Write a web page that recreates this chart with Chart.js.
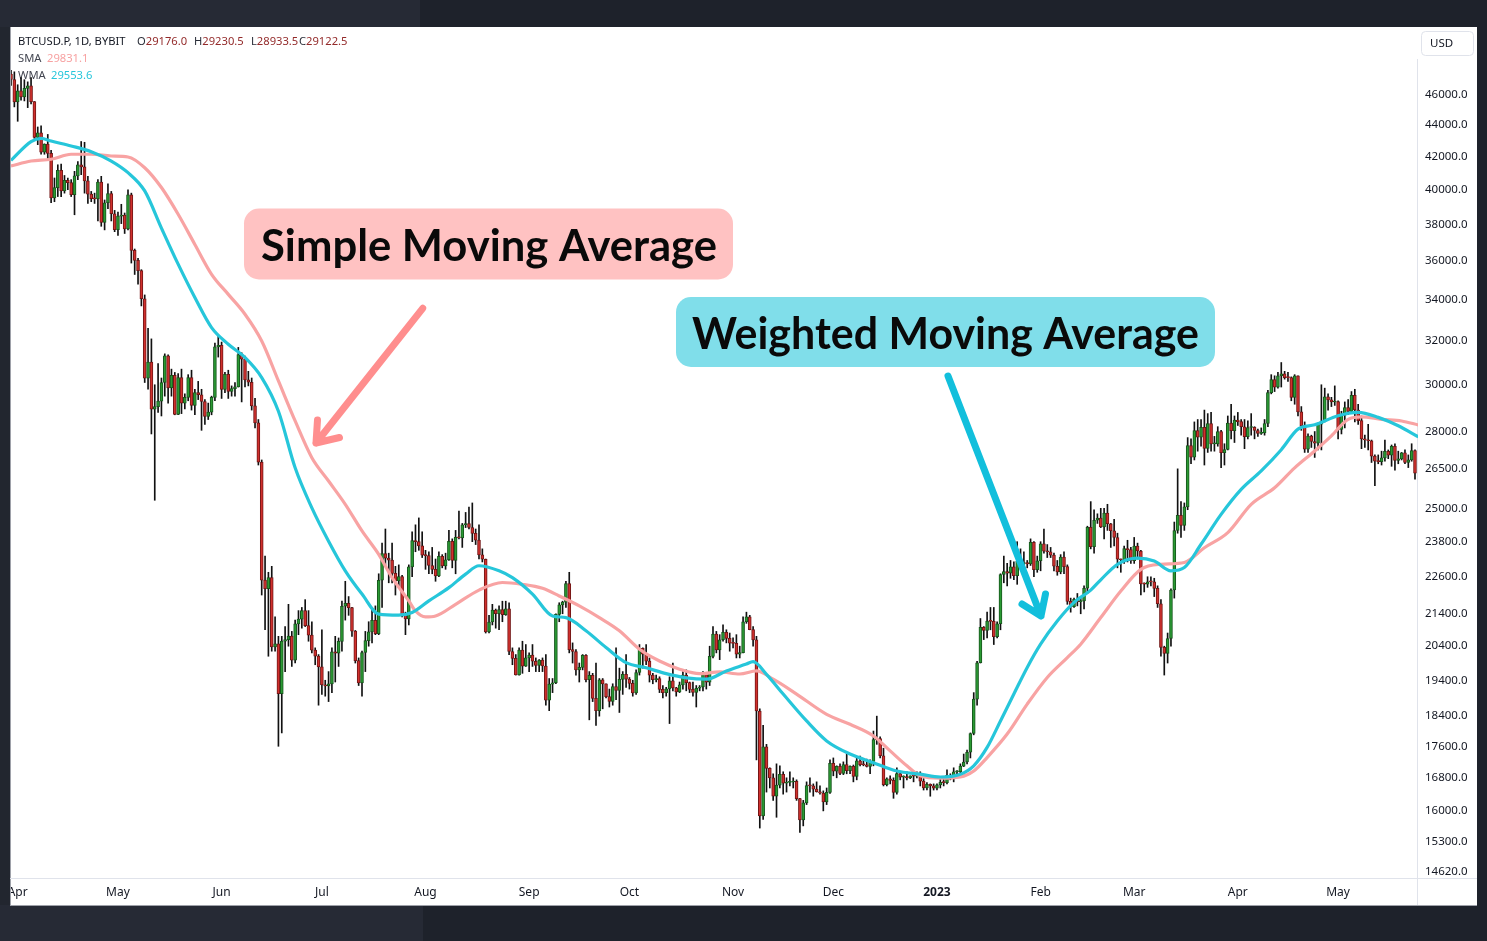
<!DOCTYPE html>
<html>
<head>
<meta charset="utf-8">
<title>BTCUSD.P 1D - Simple vs Weighted Moving Average</title>
<script src="https://cdn.jsdelivr.net/npm/chart.js@4.4.0/dist/chart.umd.min.js"></script>
<style>
  html, body { margin: 0; padding: 0; background: #1e222b; overflow: hidden; }
  #chart { display: block; }
</style>
</head>
<body>
<canvas id="chart" width="1487" height="941"></canvas>
<script>
// daily candles: first one is 30 Mar 2022 (day 0 = 1 Apr 2022)
const firstDay = -2;

const opens = [
  47440, 47063,
  45539, 46282, 45868, 46453, 46622, 45555, 43206, 43504, 42287, 42782, 42207, 39521, 40127, 41166, 39936, 40553, 40424, 39716, 40826, 41503, 41374, 40527, 39740, 39470, 39469, 40458, 38117, 39241, 39773, 38609,
  37714, 38469, 38529, 37750, 39698, 36575, 36040, 35501, 34059, 30296, 31022, 28936, 29047, 29283, 30101, 31305, 29862, 30425, 28720, 30314, 29201, 29445, 30324, 29098, 29655, 29562, 29267, 28627, 28814, 29445, 31726,
  31792, 29799, 30467, 29704, 29832, 29906, 31370, 31155, 30214, 30112, 29083, 28360, 26762, 22487, 22206, 22572, 20381, 20471, 19017, 20553, 20599, 20710, 19987, 21085, 21231, 21502, 21027, 20735, 20281, 20104,
  19785, 19269, 19242, 19297, 20231, 20190, 20548, 21637, 21731, 21592, 20860, 19970, 19323, 20212, 20569, 20836, 21190, 20779, 22485, 23389, 23231, 23164, 22714, 22465, 22609, 21361, 21239, 22930, 23843, 23804, 23656,
  23336, 23314, 22978, 22846, 22630, 23289, 22961, 23175, 23810, 23149, 23954, 23934, 24403, 24441, 24305, 24094, 23854, 23342, 23191, 20834, 21140, 21516, 21399, 21529, 21368, 21559, 20241, 20037, 19555, 20285, 19811,
  20050, 20131, 19951, 19832, 19986, 19812, 18837, 19290, 19329, 21381, 21680, 21769, 22371, 20296, 20241, 19701, 19772, 20127, 19419, 19544, 18891, 18547, 19413, 19297, 18937, 18802, 19222, 19110, 19426, 19573,
  19431, 19312, 19044, 19623, 20337, 20160, 19955, 19546, 19416, 19446, 19141, 19051, 19157, 19382, 19185, 19067, 19268, 19550, 19334, 19139, 19053, 19172, 19208, 19567, 19345, 20095, 20770, 20285, 20595, 20818, 20635,
  20495, 20485, 20159, 20209, 21148, 21300, 20905, 20591, 18541, 15880, 17586, 17034, 16800, 16353, 16619, 16884, 16670, 16688, 16697, 16712, 16292, 15787, 16190, 16610, 16605, 16522, 16458, 16428, 16212, 16442,
  17164, 16967, 17088, 16908, 17130, 16975, 17089, 16836, 17224, 17128, 17127, 17085, 17209, 17774, 17804, 17357, 16633, 16777, 16738, 16439, 16906, 16817, 16830, 16796, 16847, 16841, 16919, 16717, 16552, 16642, 16602,
  16547, 16625, 16688, 16680, 16864, 16837, 16951, 16955, 17091, 17196, 17446, 17934, 18869, 19909, 20976, 20881, 21169, 21161, 20688, 21086, 22676, 22777, 22720, 22934, 22636, 23117, 23032, 23078, 23031, 23774, 22840,
  23139, 23723, 23471, 23449, 23331, 22955, 22760, 23264, 22940, 21797, 21625, 21862, 21788, 21808, 22220, 24307, 23623, 24565, 24641, 24328, 24830, 24437, 24188, 23947, 23198, 23175, 23561, 23522,
  23147, 23646, 23475, 22362, 22354, 22435, 22429, 22219, 21718, 20363, 20187, 20633, 22163, 24197, 24746, 24375, 25052, 27423, 26965, 28038, 27767, 28175, 27307, 28333, 27493, 27494, 27994, 27139, 27268, 28348, 28033,
  28478, 28411, 28199, 27790, 28168, 28177, 28044, 27925, 27947, 28333, 29652, 30235, 29892, 30399, 30485, 30318, 30315, 29445, 30397, 28823, 28245, 27276, 27817, 27591, 27525, 28307, 28422, 29473, 29340, 29248,
  29268, 28091, 28680, 29006, 28847, 29534, 28904, 28454, 27694, 27658, 27621, 27000, 26805, 26784, 26931, 27192, 27036, 27398, 26832, 26890, 27130, 26754, 26851, 27225
];

const highs = [
  47700, 47600,
  46700, 47200, 47050, 46900, 47200, 45560, 43880, 43950, 42800, 43400, 42400, 40700, 41500, 41550, 40850, 40700, 40600, 41100, 41700, 42950, 42900, 40800, 39900, 39800, 40600, 40800, 39400, 40350, 39900, 38800,
  38700, 39150, 38650, 40000, 39800, 36650, 36150, 35550, 34250, 32600, 32100, 30000, 30950, 30300, 31400, 31350, 30700, 30550, 30500, 30700, 29600, 30450, 30650, 29800, 30150, 29800, 29350, 29200, 29500, 31900, 32250,
  31950, 30550, 30650, 29950, 30100, 31700, 31450, 31300, 30600, 30300, 29400, 28500, 26850, 23300, 22750, 22950, 21300, 20700, 20700, 21000, 21700, 20850, 21200, 21500, 21600, 21850, 21500, 21150, 20350, 20150,
  20900, 19400, 19650, 20350, 20700, 20650, 21800, 22450, 21950, 21600, 20880, 20050, 20250, 20850, 21150, 21550, 21650, 22700, 23750, 24250, 23400, 23750, 22950, 23000, 22650, 21450, 23000, 24150, 24400, 24650, 24150,
  23500, 23450, 23600, 23200, 23450, 23350, 23400, 24200, 23900, 24200, 24900, 24450, 24850, 25050, 25200, 24250, 24400, 23550, 23200, 21350, 21700, 21550, 21650, 21800, 21800, 21750, 20350, 20150, 20350, 20550, 20450,
  20200, 20450, 20050, 20000, 20050, 20150, 19450, 19450, 21400, 21750, 21800, 22450, 22750, 20500, 20300, 19900, 20150, 20150, 19650, 19600, 19900, 19450, 19450, 19300, 19150, 19300, 20350, 19750, 19650, 20150,
  19480, 19400, 19700, 20450, 20350, 20450, 20050, 19600, 19550, 19500, 19250, 19200, 19500, 19900, 19200, 19350, 19650, 19700, 19350, 19350, 19250, 19250, 19650, 19600, 20400, 21000, 20850, 20750, 21050, 20900, 20800,
  20650, 20750, 20400, 21300, 21450, 21350, 21000, 20700, 18600, 18150, 17650, 17050, 16900, 17150, 17100, 16950, 16800, 16950, 16800, 16750, 16300, 16250, 16700, 16800, 16650, 16700, 16600, 16480, 16550, 17250,
  17300, 17100, 17150, 17200, 17400, 17100, 17120, 17300, 17350, 17230, 17270, 17250, 18000, 18400, 17850, 17550, 16800, 16850, 16800, 17050, 16950, 16850, 16950, 16850, 16880, 16950, 16950, 16780, 16680, 16650, 16650,
  16650, 16780, 16780, 17000, 16900, 17050, 16980, 17150, 17400, 17500, 17950, 19050, 19950, 21250, 21000, 21450, 21600, 21600, 21150, 22700, 23300, 23050, 23150, 23100, 23800, 23550, 23450, 23150, 23900, 23800, 23300,
  23800, 24250, 23700, 23600, 23400, 23150, 23350, 23450, 23000, 21900, 21900, 22050, 21900, 22300, 24350, 25250, 24950, 24800, 25000, 25000, 25150, 24450, 24600, 24100, 23200, 23650, 23850, 23600,
  23950, 23750, 23500, 22400, 22600, 22600, 22550, 22300, 21850, 20400, 20800, 22200, 24500, 26500, 25250, 25200, 27750, 27700, 28400, 28500, 28500, 28900, 28750, 28800, 27800, 28200, 28050, 27500, 28650, 29150, 28650,
  28800, 28500, 28500, 28450, 28750, 28200, 28100, 28150, 28500, 29750, 30450, 30400, 30550, 31000, 30600, 30550, 30350, 30450, 30400, 29050, 28400, 27900, 27850, 28000, 28350, 30000, 29850, 29600, 29450, 29950,
  29300, 28850, 29250, 29350, 29700, 29800, 29150, 28650, 27850, 28300, 27650, 27050, 27050, 27200, 27650, 27250, 27450, 27500, 27200, 27150, 27250, 27050, 27500, 27250
];

const lows = [
  46650, 45200,
  44250, 45650, 45600, 45150, 45400, 43150, 42750, 42150, 42150, 41900, 39250, 39300, 39600, 39600, 39800, 40000, 39600, 38550, 40600, 40900, 39800, 39200, 39300, 39200, 38200, 37900, 37700, 38900, 38200, 37600,
  37400, 38050, 37500, 37700, 35900, 35300, 34800, 33700, 30100, 29800, 27900, 25300, 28800, 28650, 29500, 29200, 29500, 28700, 28700, 28750, 28950, 29300, 28900, 28700, 29350, 28050, 28300, 28500, 28700, 29300, 31250,
  29400, 29650, 29400, 29500, 29500, 29900, 29250, 29900, 29950, 28900, 28150, 26650, 22000, 20900, 20100, 20250, 20250, 17600, 17950, 19650, 20400, 19800, 19900, 20750, 20950, 21000, 20550, 20200, 19850, 18700,
  19000, 18950, 18800, 19050, 19350, 19800, 20250, 21200, 21350, 20700, 19900, 19250, 18950, 19650, 20400, 20500, 20750, 20750, 21600, 23000, 22400, 22400, 22000, 22300, 21300, 20750, 21050, 22600, 23450, 23500, 23250,
  22850, 22700, 22700, 22450, 22600, 22900, 22850, 23150, 22900, 22700, 23900, 23600, 24300, 24250, 23800, 23700, 23200, 23100, 20800, 20800, 21050, 20950, 20900, 21150, 21350, 20150, 19850, 19550, 19550, 19600, 19800,
  19650, 19800, 19650, 19650, 19650, 18700, 18550, 19050, 19300, 21150, 21400, 21600, 20200, 19900, 19550, 19350, 19700, 19350, 18300, 18800, 18150, 18400, 18600, 18900, 18650, 18700, 18850, 18500, 19000, 19200,
  19150, 18950, 19000, 19550, 19750, 19850, 19350, 19300, 19350, 19050, 18900, 18950, 18200, 19100, 18950, 19050, 19150, 19100, 19050, 18950, 18650, 19100, 19100, 19150, 19250, 20050, 20200, 20000, 20550, 20500, 20250,
  20350, 20050, 20050, 20200, 21100, 20900, 20400, 17250, 15600, 15800, 16450, 16550, 16250, 15850, 16550, 16400, 16450, 16600, 16550, 16250, 15500, 15650, 16150, 16450, 16350, 16450, 16400, 16000, 16150, 16420,
  16850, 16800, 16880, 16880, 16900, 16900, 16700, 16750, 17100, 17100, 17070, 16900, 17100, 17650, 17300, 16600, 16600, 16650, 16300, 16400, 16750, 16550, 16750, 16780, 16700, 16800, 16600, 16500, 16500, 16350, 16500,
  16500, 16550, 16600, 16650, 16750, 16700, 16900, 16920, 17080, 17150, 17300, 17900, 18700, 19900, 20600, 20650, 20900, 20450, 20650, 20900, 22400, 22300, 22550, 22500, 22350, 22850, 22550, 22900, 22980, 22600, 22750,
  22800, 23400, 23250, 23250, 22800, 22650, 22700, 22700, 21700, 21450, 21600, 21650, 21400, 21550, 22050, 23550, 23400, 24450, 24300, 23900, 24200, 23600, 23650, 22900, 22750, 23050, 23100, 23050,
  23050, 23200, 22000, 22100, 22250, 22300, 21950, 21600, 20100, 19550, 19900, 20400, 21900, 24100, 23950, 24200, 24950, 26700, 26850, 27200, 27400, 26650, 27150, 27200, 27200, 27400, 26550, 26650, 27250, 27700, 27550,
  28250, 27850, 27300, 27700, 27850, 27700, 27800, 27880, 27850, 28200, 29600, 29700, 29850, 29900, 30250, 30150, 29300, 29150, 28650, 28050, 27150, 27150, 27350, 26950, 27250, 27250, 28400, 28900, 29050, 29100,
  27700, 27900, 28150, 28700, 28800, 28400, 28300, 27300, 27350, 27250, 26750, 25850, 26700, 26650, 26800, 26900, 26600, 26450, 26700, 26850, 26700, 26550, 26800, 26100
];

const closes = [
  47063, 45539,
  46282, 45868, 46453, 46622, 45555, 43206, 43504, 42287, 42782, 42207, 39521, 40127, 41166, 39936, 40553, 40424, 39716, 40826, 41503, 41374, 40527, 39740, 39470, 39469, 40458, 38117, 39241, 39773, 38609, 37714,
  38469, 38529, 37750, 39698, 36575, 36040, 35501, 34059, 30296, 31022, 28936, 29047, 29283, 30101, 31305, 29862, 30425, 28720, 30314, 29201, 29445, 30324, 29098, 29655, 29562, 29267, 28627, 28814, 29445, 31726, 31792,
  29799, 30467, 29704, 29832, 29906, 31370, 31155, 30214, 30112, 29083, 28360, 26762, 22487, 22206, 22572, 20381, 20471, 19017, 20553, 20599, 20710, 19987, 21085, 21231, 21502, 21027, 20735, 20281, 20104, 19785,
  19269, 19242, 19297, 20231, 20190, 20548, 21637, 21731, 21592, 20860, 19970, 19323, 20212, 20569, 20836, 21190, 20779, 22485, 23389, 23231, 23164, 22714, 22465, 22609, 21361, 21239, 22930, 23843, 23804, 23656, 23336,
  23314, 22978, 22846, 22630, 23289, 22961, 23175, 23810, 23149, 23954, 23934, 24403, 24441, 24305, 24094, 23854, 23342, 23191, 20834, 21140, 21516, 21399, 21529, 21368, 21559, 20241, 20037, 19555, 20285, 19811, 20050,
  20131, 19951, 19832, 19986, 19812, 18837, 19290, 19329, 21381, 21680, 21769, 22371, 20296, 20241, 19701, 19772, 20127, 19419, 19544, 18891, 18547, 19413, 19297, 18937, 18802, 19222, 19110, 19426, 19573, 19431,
  19312, 19044, 19623, 20337, 20160, 19955, 19546, 19416, 19446, 19141, 19051, 19157, 19382, 19185, 19067, 19268, 19550, 19334, 19139, 19053, 19172, 19208, 19567, 19345, 20095, 20770, 20285, 20595, 20818, 20635, 20495,
  20485, 20159, 20209, 21148, 21300, 20905, 20591, 18541, 15880, 17586, 17034, 16800, 16353, 16619, 16884, 16670, 16688, 16697, 16712, 16292, 15787, 16190, 16610, 16605, 16522, 16458, 16428, 16212, 16442, 17164,
  16967, 17088, 16908, 17130, 16975, 17089, 16836, 17224, 17128, 17127, 17085, 17209, 17774, 17804, 17357, 16633, 16777, 16738, 16439, 16906, 16817, 16830, 16796, 16847, 16841, 16919, 16717, 16552, 16642, 16602, 16547,
  16625, 16688, 16680, 16864, 16837, 16951, 16955, 17091, 17196, 17446, 17934, 18869, 19909, 20976, 20881, 21169, 21161, 20688, 21086, 22676, 22777, 22720, 22934, 22636, 23117, 23032, 23078, 23031, 23774, 22840, 23139,
  23723, 23471, 23449, 23331, 22955, 22760, 23264, 22940, 21797, 21625, 21862, 21788, 21808, 22220, 24307, 23623, 24565, 24641, 24328, 24830, 24437, 24188, 23947, 23198, 23175, 23561, 23522, 23147,
  23646, 23475, 22362, 22354, 22435, 22429, 22219, 21718, 20363, 20187, 20633, 22163, 24197, 24746, 24375, 25052, 27423, 26965, 28038, 27767, 28175, 27307, 28333, 27493, 27494, 27994, 27139, 27268, 28348, 28033, 28478,
  28411, 28199, 27790, 28168, 28177, 28044, 27925, 27947, 28333, 29652, 30235, 29892, 30399, 30485, 30318, 30315, 29445, 30397, 28823, 28245, 27276, 27817, 27591, 27525, 28307, 28422, 29473, 29340, 29248, 29268,
  28091, 28680, 29006, 28847, 29534, 28904, 28454, 27694, 27658, 27621, 27000, 26805, 26784, 26931, 27192, 27036, 27398, 26832, 26890, 27130, 26754, 26851, 27225, 26334
];

// moving averages (day index, price)
const smaDays = [-2, 4, 10, 16, 22, 28, 33, 38, 43, 48, 53, 58, 63, 68, 73, 78, 83, 88, 93, 98,
  103, 108, 112, 117, 119, 122, 125, 131, 138, 145, 151, 157, 162, 168, 174, 180, 186, 192, 198, 204,
  210, 216, 221, 226, 233, 242, 249, 256, 261, 266, 270, 276, 282, 286, 290, 296, 302, 308, 314, 318,
  324, 330, 336, 342, 349, 355, 362, 369, 376, 382, 388, 393, 398, 402, 408, 414, 419];
const smaValues = [41430, 41730, 41840, 42150, 42150, 42040, 41980, 41320, 40130, 38580, 36900, 35310, 34280, 33290, 32000, 30170, 28440, 26940, 26030, 25150,
  24180, 23360, 22570, 21810, 21490, 21300, 21330, 21700, 22160, 22410, 22350, 22220, 21970, 21650, 21280, 20870, 20310, 19960, 19720, 19590,
  19640, 19580, 19670, 19430, 19010, 18450, 18180, 17870, 17480, 17100, 16850, 16790, 16820, 16970, 17310, 17920, 18730, 19480, 20060, 20460,
  21280, 22130, 22850, 23020, 23080, 23590, 24120, 25150, 25770, 26540, 27210, 27820, 28510, 28610, 28510, 28440, 28270];

const wmaDays = [-2, 4, 7, 10, 16, 22, 28, 33, 38, 43, 48, 53, 58, 63, 68, 73, 78, 83, 88, 93,
  98, 103, 108, 114, 118, 123, 129, 134, 138, 144, 148, 154, 160, 164, 170, 176, 182, 188, 194, 200,
  206, 212, 218, 220, 224, 229, 236, 242, 249, 256, 263, 270, 276, 282, 286, 290, 294, 298, 302, 306,
  311, 316, 321, 324, 329, 335, 340, 345, 349, 354, 360, 366, 372, 378, 383, 388, 395, 401, 407, 413, 419];
const wmaValues = [41770, 42940, 43150, 42980, 42670, 42310, 41730, 41020, 39930, 37800, 35840, 34120, 32640, 31850, 31230, 30320, 28850, 26540, 25020, 23820,
  22800, 22030, 21390, 21360, 21440, 21810, 22240, 22690, 22970, 22800, 22570, 22030, 21330, 21280, 20870, 20360, 19910, 19760, 19590, 19470,
  19430, 19670, 19870, 19940, 19570, 19010, 18270, 17740, 17400, 17180, 16970, 16890, 16820, 16890, 17100, 17570, 18270, 19010, 19770, 20460,
  21170, 21760, 22160, 22500, 23020, 23230, 23130, 22800, 22910, 23710, 24780, 25710, 26420, 27260, 28100, 28280, 28660, 28800, 28590, 28240, 27780];

const priceTicks = [46000, 44000, 42000, 40000, 38000, 36000, 34000, 32000, 30000, 28000, 26500, 25000,
  23800, 22600, 21400, 20400, 19400, 18400, 17600, 16800, 16000, 15300, 14620];
const monthDays = [0, 30, 61, 91, 122, 153, 183, 214, 244, 275, 306, 334, 365, 395];
const monthLabels = ['Apr', 'May', 'Jun', 'Jul', 'Aug', 'Sep', 'Oct', 'Nov', 'Dec', '2023', 'Feb', 'Mar', 'Apr', 'May'];

const W = 1487, H = 941;
const FONT = "'Noto Sans', 'Open Sans', sans-serif";

const isUp = i => closes[i] >= opens[i];
const wickData = highs.map((h, i) => ({ x: firstDay + i, y: [lows[i], h] }));
const bodyData = opens.map((o, i) => ({ x: firstDay + i, y: [o, closes[i]] }));

function roundRect(c, x, y, w, h, r) {
  c.beginPath();
  c.moveTo(x + r, y);
  c.arcTo(x + w, y, x + w, y + h, r);
  c.arcTo(x + w, y + h, x, y + h, r);
  c.arcTo(x, y + h, x, y, r);
  c.arcTo(x, y, x + w, y, r);
  c.closePath();
}

// bold label squeezed to the width it has in the picture
function boxText(c, s, x, base, width, size) {
  c.save();
  c.font = 'bold ' + size + "px Lato, 'Open Sans', sans-serif";
  const w = c.measureText(s).width;
  c.translate(x, base);
  c.scale(width / w, 1);
  c.fillStyle = '#0a0a0a';
  c.textBaseline = 'alphabetic';
  c.fillText(s, 0, 0);
  c.restore();
}

function arrow(c, pts, color) {
  c.save();
  c.strokeStyle = color;
  c.lineWidth = 7;
  c.lineCap = 'round';
  c.lineJoin = 'round';
  c.beginPath();
  c.moveTo(pts[0][0], pts[0][1]);
  c.lineTo(pts[1][0], pts[1][1]);
  c.moveTo(pts[2][0], pts[2][1]);
  c.lineTo(pts[1][0], pts[1][1]);
  c.lineTo(pts[3][0], pts[3][1]);
  c.stroke();
  c.restore();
}

function put(c, s, x, y, color) {
  c.fillStyle = color;
  c.fillText(s, x, y);
}

const frame = {
  id: 'frame',
  beforeDraw(chart) {
    const c = chart.ctx;
    c.save();
    c.fillStyle = '#1e222b';
    c.fillRect(0, 0, W, H);
    c.fillStyle = '#262a35';
    c.fillRect(0, 0, 420, 27);
    c.fillRect(0, 905, 423, 36);
    c.fillStyle = '#22262f';
    c.fillRect(0, 27, 10, 878);
    c.fillStyle = '#ffffff';
    c.fillRect(10, 27, 1467, 879);
    c.fillStyle = '#9ea1a9';
    c.fillRect(10, 27, 1, 879);
    c.fillRect(10, 905, 1467, 1);
    // axis separators
    c.fillStyle = '#e0e3eb';
    c.fillRect(10, 878, 1467, 1);
    c.fillRect(1417, 59, 1, 846);
    c.restore();

    c.save();
    c.beginPath();
    c.rect(11, 27, 1466, 878);
    c.clip();
  },
  beforeDatasetsDraw(chart) {
    const c = chart.ctx;
    c.save();
    c.font = '11.2px ' + FONT;
    c.textBaseline = 'middle';
    put(c, 'BTCUSD.P, 1D, BYBIT', 18, 42, '#131722');
    const ohlc = [['O', '29176.0', 137], ['H', '29230.5', 194], ['L', '28933.5', 251], ['C', '29122.5', 299]];
    ohlc.forEach(([k, v, x]) => {
      put(c, k, x, 42, '#2a2e39');
      put(c, v, x + c.measureText(k).width, 42, '#932a2a');
    });
    put(c, 'SMA', 18, 58.5, '#434651');
    put(c, '29831.1', 47, 58.5, '#f7a1a1');
    put(c, 'WMA', 18, 75.5, '#434651');
    put(c, '29553.6', 51, 75.5, '#26c6da');
    c.restore();
  },
  afterDraw(chart) {
    const c = chart.ctx;
    // callouts
    c.fillStyle = '#ffc2c2';
    roundRect(c, 244, 208.5, 489, 71, 15);
    c.fill();
    boxText(c, 'Simple Moving Average', 261, 261, 456, 44);

    c.fillStyle = '#80deea';
    roundRect(c, 676, 297, 539, 70, 15);
    c.fill();
    boxText(c, 'Weighted Moving Average', 692, 349, 507, 44);

    arrow(c, [[422.7, 308.3], [316, 443], [317.5, 420], [339.5, 437.5]], '#ff8e8e');
    arrow(c, [[948, 376], [1041, 616], [1022, 604], [1045.5, 594]], '#12bfdc');

    // currency badge
    c.save();
    c.strokeStyle = '#e0e3eb';
    c.lineWidth = 1;
    roundRect(c, 1421.5, 31.5, 52, 24, 4);
    c.stroke();
    c.font = '11.5px ' + FONT;
    c.textBaseline = 'middle';
    put(c, 'USD', 1430, 43.5, '#131722');
    c.restore();

    c.restore();
  }
};

new Chart(document.getElementById('chart'), {
  type: 'bar',
  data: {
    datasets: [
      {
        type: 'line', label: 'WMA',
        data: wmaDays.map((d, i) => ({ x: d, y: wmaValues[i] })),
        borderColor: '#26c6da', borderWidth: 3.2, pointRadius: 0,
        cubicInterpolationMode: 'monotone', order: 0
      },
      {
        type: 'line', label: 'SMA',
        data: smaDays.map((d, i) => ({ x: d, y: smaValues[i] })),
        borderColor: '#f8a3a3', borderWidth: 3.2, pointRadius: 0,
        cubicInterpolationMode: 'monotone', order: 1
      },
      {
        label: 'body', data: bodyData, grouped: false,
        barThickness: 3, minBarLength: 1, borderWidth: 1, borderSkipped: false,
        backgroundColor: ctx => isUp(ctx.dataIndex) ? '#2a9a33' : '#d0302d',
        borderColor: ctx => isUp(ctx.dataIndex) ? '#17561d' : '#731616',
        order: 2
      },
      {
        label: 'wick', data: wickData, grouped: false,
        barThickness: 1, backgroundColor: '#111111', order: 3
      }
    ]
  },
  options: {
    responsive: false,
    animation: false,
    devicePixelRatio: 1,
    layout: { padding: { left: 10, top: 27, right: 10, bottom: 36 } },
    plugins: { legend: { display: false }, tooltip: { enabled: false } },
    scales: {
      x: {
        type: 'linear', min: -2.3, max: 418.9, offset: false,
        grid: { display: false, drawTicks: false }, border: { display: false },
        afterBuildTicks: s => { s.ticks = monthDays.map(v => ({ value: v })); },
        afterFit: s => { s.height = 27; s.paddingLeft = 0; s.paddingRight = 0; },
        ticks: {
          autoSkip: false, maxRotation: 0, minRotation: 0, padding: 7, color: '#131722',
          font: ctx => ({ family: FONT, size: 12, weight: monthLabels[ctx.index] === '2023' ? 'bold' : 'normal' }),
          callback: (v, i) => monthLabels[i]
        }
      },
      y: {
        type: 'logarithmic', position: 'right', min: 14492, max: 50853,
        grid: { display: false, drawTicks: false }, border: { display: false },
        afterBuildTicks: s => { s.ticks = priceTicks.map(v => ({ value: v })); },
        afterFit: s => { s.width = 59; s.paddingTop = 0; s.paddingBottom = 0; },
        ticks: {
          autoSkip: false, padding: 7, color: '#131722',
          font: { family: FONT, size: 11.5 },
          callback: v => Number(v).toFixed(1)
        }
      }
    }
  },
  plugins: [frame]
});
</script>
</body>
</html>
